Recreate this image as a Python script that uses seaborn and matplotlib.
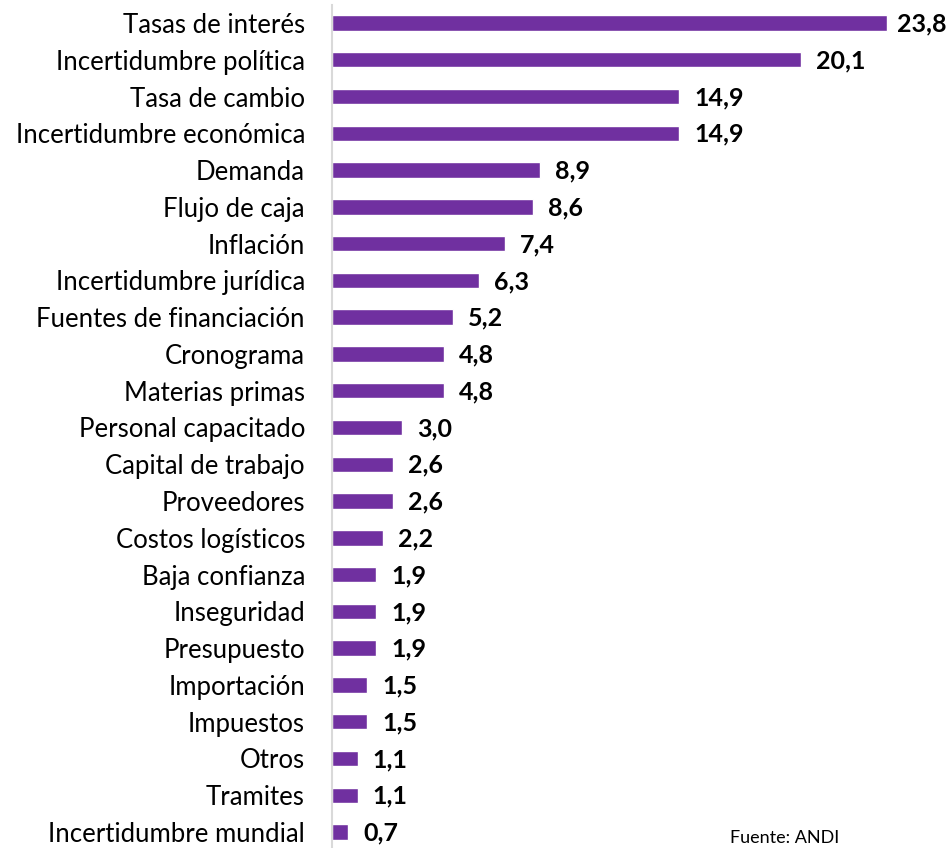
import matplotlib
matplotlib.use("Agg")
import matplotlib.pyplot as plt
import seaborn as sns
import pandas as pd

categories = ["Tasas de interés", "Incertidumbre política", "Tasa de cambio",
              "Incertidumbre económica", "Demanda", "Flujo de caja", "Inflación",
              "Incertidumbre jurídica", "Fuentes de financiación", "Cronograma",
              "Materias primas", "Personal capacitado", "Capital de trabajo",
              "Proveedores", "Costos logísticos", "Baja confianza", "Inseguridad",
              "Presupuesto", "Importación", "Impuestos", "Otros", "Tramites",
              "Incertidumbre mundial"]
values = [23.8, 20.1, 14.9, 14.9, 8.9, 8.6, 7.4, 6.3, 5.2, 4.8, 4.8, 3.0, 2.6,
          2.6, 2.2, 1.9, 1.9, 1.9, 1.5, 1.5, 1.1, 1.1, 0.7]
source = "Fuente: ANDI"

sns.set_theme(style="white")
plt.rcParams['font.family'] = ['Lato', 'DejaVu Sans']

df = pd.DataFrame({"cat": categories, "val": values})

fig = plt.figure(figsize=(9.52, 8.48), dpi=100)
ax = fig.add_axes([332/952, 0.0, 1 - 332/952, 1 - 5/848])

sns.barplot(data=df, x="val", y="cat", color="#7030A0", saturation=1,
            width=0.42, ax=ax, orient="h")

n = len(categories)
spacing = (832 - 23) / (n - 1)
top = -(23 - 5) / spacing
bottom = (n - 1) + (848 - 832) / spacing
ax.set_ylim(bottom, top)
ppu = 23.32
xmax = (952 - 332) / ppu
ax.set_xlim(0, xmax)

gap = 15 / ppu
limit = (897 - 332) / ppu
for i, v in enumerate(values):
    ax.text(min(v + gap, limit), i + 0.03, f"{v:.1f}".replace(".", ","),
            va="center", ha="left", fontsize=18, fontweight="bold", color="black")

ax.set_xlabel("")
ax.set_ylabel("")
ax.set_xticks([])
ax.tick_params(axis="y", length=0, pad=19.5, labelsize=18.5, labelcolor="black")
for s in ["top", "right", "bottom"]:
    ax.spines[s].set_visible(False)
ax.spines["left"].set_color("#D9D9D9")
ax.spines["left"].set_linewidth(1.5)

fig.text(730/952, 1 - 846/848, source, fontsize=13, color="black", ha="left", va="bottom")

fig.savefig("out.png", dpi=100)
